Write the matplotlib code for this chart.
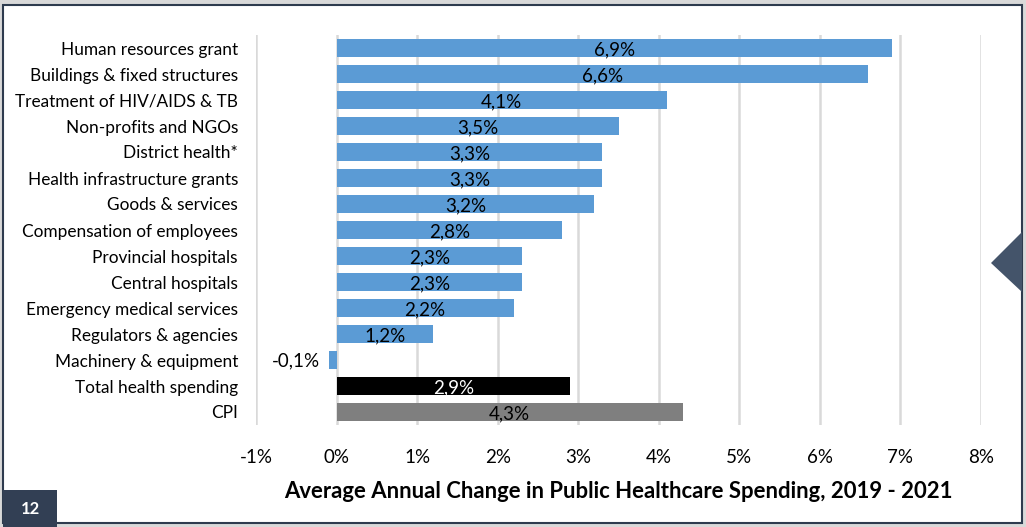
import matplotlib.pyplot as plt
from matplotlib.patches import Rectangle, Polygon

# Average annual change, 2019-2021 (%)
categories = [
    "Human resources grant",
    "Buildings & fixed structures",
    "Treatment of HIV/AIDS & TB",
    "Non-profits and NGOs",
    "District health*",
    "Health infrastructure grants",
    "Goods & services",
    "Compensation of employees",
    "Provincial hospitals",
    "Central hospitals",
    "Emergency medical services",
    "Regulators & agencies",
    "Machinery & equipment",
    "Total health spending",
    "CPI",
]
values = [6.9, 6.6, 4.1, 3.5, 3.3, 3.3, 3.2, 2.8, 2.3, 2.3, 2.2, 1.2, -0.1, 2.9, 4.3]
ticks = [-1, 0, 1, 2, 3, 4, 5, 6, 7, 8]

plt.rcParams["font.family"] = ["Lato", "DejaVu Sans"]

fig = plt.figure(figsize=(10.26, 5.27), dpi=100)
fig.patch.set_facecolor("#D9D9D9")

# page frame
fig.patches.append(Rectangle((3 / 1026, 4 / 527), 1019 / 1026, 518 / 527,
                             transform=fig.transFigure, facecolor="white",
                             edgecolor="#2E3B4E", linewidth=1.5, zorder=-2))
# page number tab
fig.patches.append(Rectangle((3 / 1026, 0), 54 / 1026, 37 / 527,
                             transform=fig.transFigure, facecolor="#323F54",
                             edgecolor="none", zorder=-1))
fig.text(30 / 1026, 18 / 527, "12", color="white", fontsize=12,
         fontweight="bold", ha="center", va="center")
# side marker
fig.patches.append(Polygon([(991 / 1026, 1 - 263 / 527), (1022 / 1026, 1 - 232 / 527),
                            (1022 / 1026, 1 - 292 / 527)], closed=True,
                           transform=fig.transFigure, facecolor="#44546A",
                           edgecolor="none", zorder=-1))

ax = fig.add_axes([256 / 1026, 1 - 425 / 527, 725 / 1026, 390 / 527])
ax.set_facecolor("none")
ax.set_zorder(2)

colors = ["#5B9BD5"] * 13 + ["#000000", "#7F7F7F"]
pos = list(range(len(categories)))
ax.barh(pos, values, height=0.69, color=colors, zorder=3)

for i, v in enumerate(values):
    txt = f"{v:.1f}%".replace(".", ",")
    if v < 0:
        ax.text(v - 0.1, i + 0.05, txt, ha="right", va="center", fontsize=13.5, color="black")
    else:
        c = "white" if i == 13 else "black"
        ax.text(v / 2, i + 0.08, txt, ha="center", va="center", fontsize=13.5, color=c, zorder=4)

ax.set_xlim(-1, 8)
ax.set_ylim(len(categories) - 0.5, -0.5)
ax.set_xticks(ticks)
ax.set_xticklabels([f"{t}%" for t in ticks], fontsize=13.5)
ax.set_yticks(pos)
ax.set_yticklabels(categories, fontsize=12.4)
ax.tick_params(length=0)
ax.tick_params(axis="y", pad=13)
ax.tick_params(axis="x", pad=17)
ax.grid(axis="x", color="#D9D9D9", linewidth=1.8, zorder=0)
for s in ax.spines.values():
    s.set_visible(False)

fig.text(618 / 1026, 1 - 492 / 527,
         "Average Annual Change in Public Healthcare Spending, 2019 - 2021",
         ha="center", va="center", fontsize=15.9, fontweight="bold")

plt.savefig("out.png", dpi=100, facecolor=fig.get_facecolor())
